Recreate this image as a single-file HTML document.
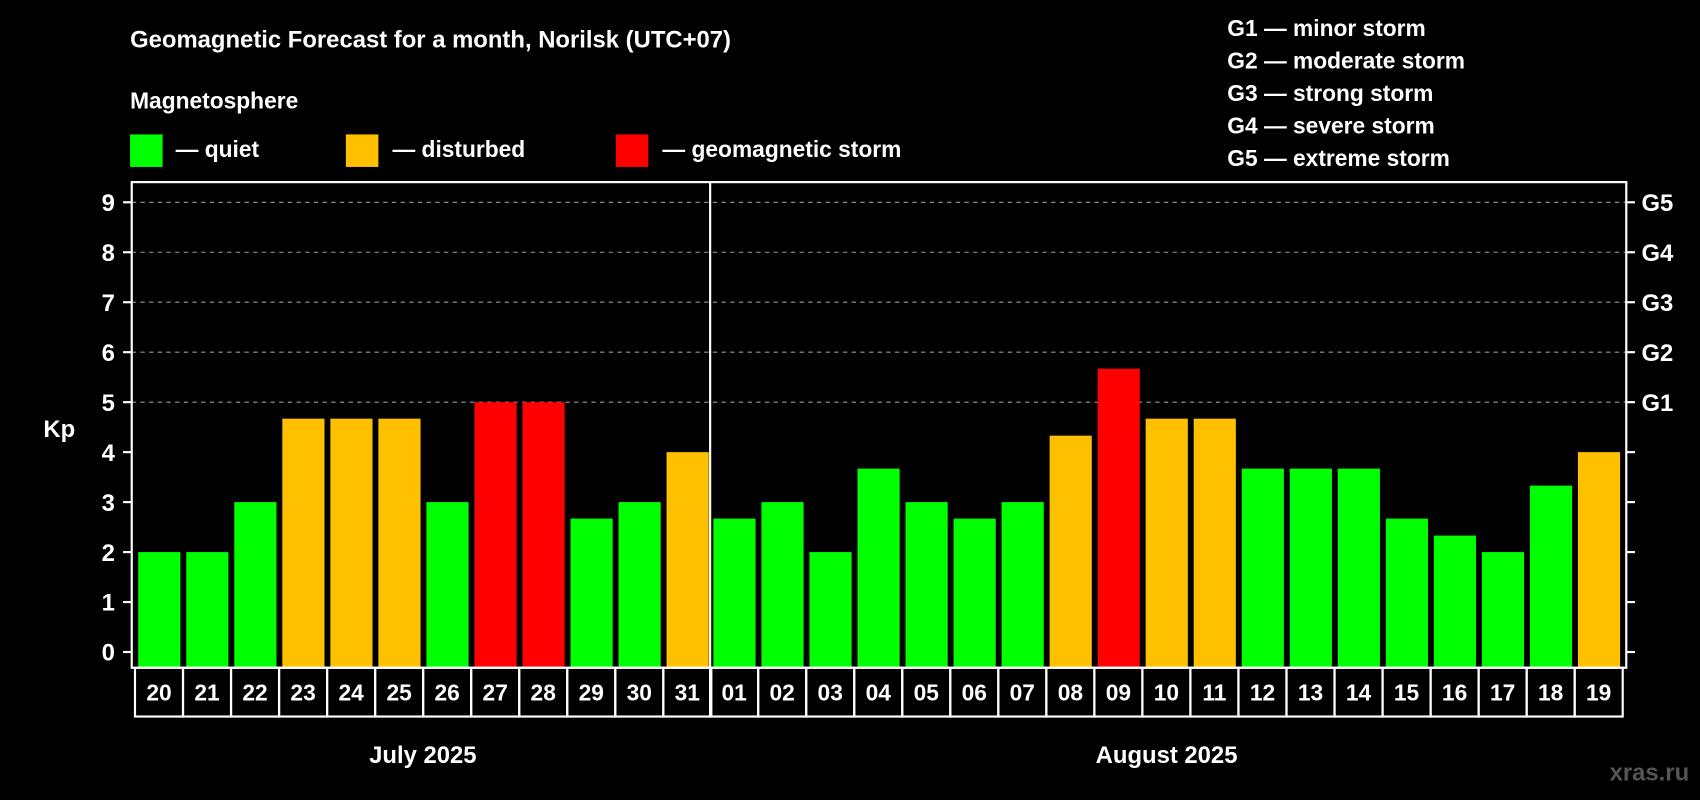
<!DOCTYPE html>
<html><head><meta charset="utf-8"><style>
html,body{margin:0;padding:0;background:#000;}
svg{display:block;font-family:"Liberation Sans",Arial,sans-serif;font-weight:bold;}
</style></head><body>
<svg id="chart" width="1700" height="800" viewBox="0 0 1568 738" preserveAspectRatio="none" xmlns="http://www.w3.org/2000/svg">
<rect x="0" y="0" width="1568" height="738" fill="#000"/>
<text x="120" y="44" font-size="22" fill="#fff">Geomagnetic Forecast for a month, Norilsk (UTC+07)</text>
<text x="120" y="100" font-size="21" fill="#fff">Magnetosphere</text>
<g><rect x="120" y="124" width="30" height="30" fill="#00ff00"/><text x="162" y="145" font-size="21" fill="#fff">— quiet</text></g>
<g><rect x="319" y="124" width="30" height="30" fill="#ffc000"/><text x="362" y="145" font-size="21" fill="#fff">— disturbed</text></g>
<g><rect x="568" y="124" width="30" height="30" fill="#ff0000"/><text x="611" y="145" font-size="21" fill="#fff">— geomagnetic storm</text></g>
<g font-size="21" fill="#fff">
<text x="1132" y="33">G1 — minor storm</text>
<text x="1132" y="63">G2 — moderate storm</text>
<text x="1132" y="93">G3 — strong storm</text>
<text x="1132" y="123">G4 — severe storm</text>
<text x="1132" y="153">G5 — extreme storm</text>
</g>
<text x="40" y="403" font-size="22" fill="#fff">Kp</text>
<text x="390" y="704" font-size="22" fill="#fff" text-anchor="middle">July 2025</text>
<text x="1076" y="704" font-size="22" fill="#fff" text-anchor="middle">August 2025</text>
<text x="1558" y="720" font-size="22" fill="#555" text-anchor="end">xras.ru</text>
<g id="grid"></g><g id="bars"></g><g id="axes"></g>
</svg>
<script>
const days = ["20","21","22","23","24","25","26","27","28","29","30","31","01","02","03","04","05","06","07","08","09","10","11","12","13","14","15","16","17","18","19"];
const kpValues = [2,2,3,4.67,4.67,4.67,3,5,5,2.67,3,4,2.67,3,2,3.67,3,2.67,3,4.33,5.67,4.67,4.67,3.67,3.67,3.67,2.67,2.33,2,3.33,4];
const yTicks = [0,1,2,3,4,5,6,7,8,9];
const gLabels = ["","","","","","G1","G2","G3","G4","G5"];
const julyCount = 12;
const NS="http://www.w3.org/2000/svg";
const L=121.5,R=1500,T=168,B=616,slot=44.3;
function y(v){return 601.5-v*46.1;}
function xs(i){return i<julyCount?124.5+i*slot:655+(i-julyCount)*slot;}
function mk(tag,a,p){const e=document.createElementNS(NS,tag);for(const k in a)e.setAttribute(k,a[k]);p.appendChild(e);return e;}
const grid=document.getElementById('grid'),bars=document.getElementById('bars'),axes=document.getElementById('axes');
yTicks.forEach((t,i)=>{
  if(t>=5){const g=mk('line',{x1:L,x2:R,y1:y(t),y2:y(t),stroke:'#999','stroke-dasharray':'4,4','stroke-width':1},grid);
  
  }
  const tk=mk('line',{x1:L-8,x2:L,y1:y(t),y2:y(t),stroke:'#fff','stroke-width':2},axes);
  
  
  const tk2=mk('line',{x1:R,x2:R+8,y1:y(t),y2:y(t),stroke:'#fff','stroke-width':2},axes);
  
  
  const lb=mk('text',{x:106,y:y(t)+8,'font-size':22,fill:'#fff','text-anchor':'end'},axes);lb.textContent=t;
  
  
  if(gLabels[i]){const g2=mk('text',{x:1514,y:y(t)+8,'font-size':22,fill:'#fff'},axes);g2.textContent=gLabels[i];
  
  }
});
kpValues.forEach((v,i)=>{
  const c=v>=5?'#ff0000':(v>=4?'#ffc000':'#00ff00');
  const b=mk('rect',{x:xs(i)+3,y:y(v),width:38.9,height:B-y(v),fill:c},bars);
  
  
  const bx=mk('rect',{x:xs(i),y:B,width:slot,height:45,fill:'none',stroke:'#fff','stroke-width':2},axes);
  
  
  const tx=mk('text',{x:xs(i)+slot/2,y:646,'font-size':21,fill:'#fff','text-anchor':'middle'},axes);tx.textContent=days[i];
  
  
});
const fr=mk('rect',{x:L,y:T,width:R-L,height:B-T,fill:'none',stroke:'#fff','stroke-width':2},axes);


const dv=mk('line',{x1:655,x2:655,y1:T,y2:B+45,stroke:'#fff','stroke-width':2},axes);


</script>
</body></html>
